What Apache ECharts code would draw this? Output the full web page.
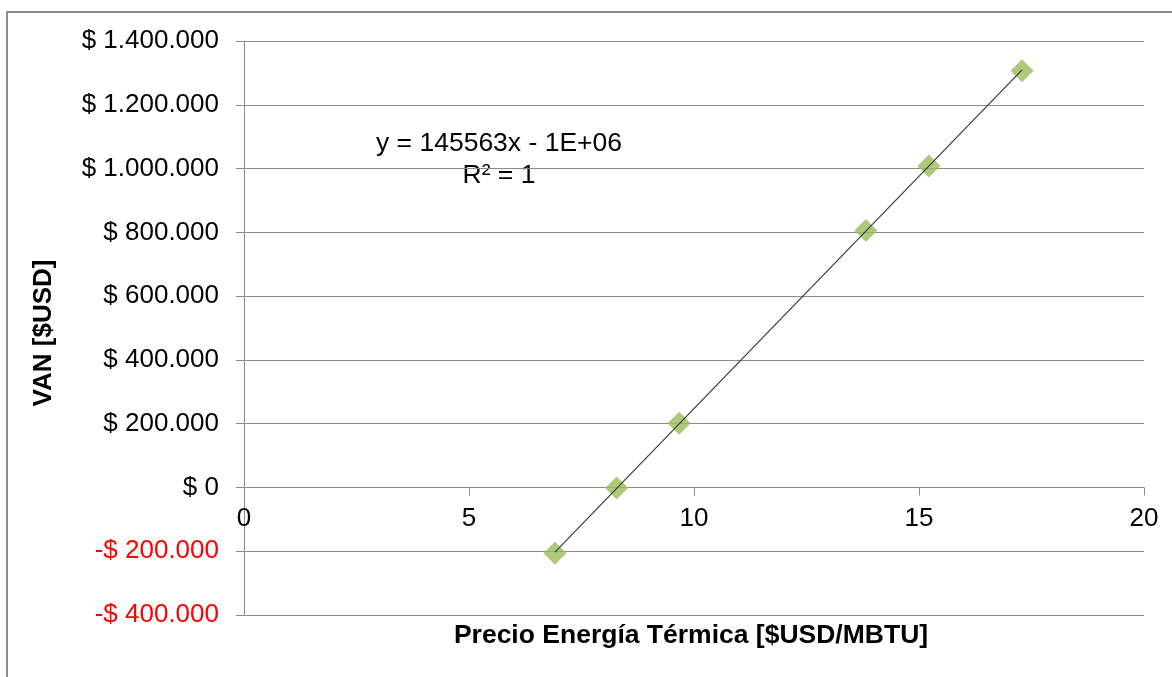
<!DOCTYPE html>
<html>
<head>
<meta charset="utf-8">
<script src="https://cdn.jsdelivr.net/npm/echarts@6/dist/echarts.min.js"></script>
<style>
html,body{margin:0;padding:0;background:#fff;}
#chart{width:1172px;height:677px;}
</style>
</head>
<body>
<div id="chart"></div>
<script>
// Data
var precio = [6.91, 8.28, 9.67, 13.82, 15.22, 17.29];
var van = [-206000, -2000, 201000, 806000, 1008000, 1307000];
var xTicks = [0, 5, 10, 15, 20];
var yTicks = [-400000, -200000, 0, 200000, 400000, 600000, 800000, 1000000, 1200000, 1400000];
var xTitle = 'Precio Energía Térmica [$USD/MBTU]';
var yTitle = 'VAN [$USD]';
var eqText = 'y = 145563x - 1E+06';
var r2Text = 'R² = 1';

// least squares trendline from data
var n = precio.length, sx = 0, sy = 0, sxx = 0, sxy = 0;
for (var i = 0; i < n; i++) { sx += precio[i]; sy += van[i]; sxx += precio[i]*precio[i]; sxy += precio[i]*van[i]; }
var slope = (n*sxy - sx*sy) / (n*sxx - sx*sx);
var icpt = (sy - slope*sx) / n;
var xmin = Math.min.apply(null, precio), xmax = Math.max.apply(null, precio);
var trend = [[xmin, slope*xmin + icpt], [xmax, slope*xmax + icpt]];

function fmtMoney(v) {
  var a = Math.abs(v);
  var s = String(Math.round(a)).replace(/\B(?=(\d{3})+(?!\d))/g, '.');
  return v < 0 ? '{neg|-$ ' + s + '}' : '{pos|$ ' + s + '}';
}

var FONT = '"Liberation Sans", Arial, sans-serif';
var GRID_TOP = 41, GRID_BOTTOM = 62, H = 677;
var plotH = H - GRID_TOP - GRID_BOTTOM;
var yMin = yTicks[0], yMax = yTicks[yTicks.length-1];
// move x axis up to the zero line (axis crosses at value 0)
var zeroOffset = -plotH * (0 - yMin) / (yMax - yMin);

var chart = echarts.init(document.getElementById('chart'), null, {renderer: 'canvas'});
chart.setOption({
  animation: false,
  backgroundColor: '#ffffff',
  grid: {left: 244, right: 28, top: GRID_TOP, bottom: GRID_BOTTOM, containLabel: false},
  xAxis: {
    type: 'value', min: xTicks[0], max: xTicks[xTicks.length-1], interval: 5,
    offset: zeroOffset,
    axisLine: {show: true, onZero: false, lineStyle: {color: '#8c8c8c', width: 1}},
    axisTick: {show: true, inside: false, length: 8, lineStyle: {color: '#8c8c8c'}},
    splitLine: {show: false},
    axisLabel: {fontFamily: FONT, fontSize: 26, color: '#000', margin: 18}
  },
  yAxis: {
    type: 'value', min: yMin, max: yMax, interval: 200000,
    axisLine: {show: true, onZero: false, lineStyle: {color: '#8c8c8c', width: 1}},
    axisTick: {show: true, inside: false, length: 8, lineStyle: {color: '#8c8c8c'}},
    splitLine: {show: true, lineStyle: {color: '#8c8c8c', width: 1}},
    axisLabel: {
      fontFamily: FONT, fontSize: 26, margin: 25,
      formatter: fmtMoney,
      rich: {
        neg: {color: '#ff0000', fontFamily: FONT, fontSize: 26},
        pos: {color: '#000000', fontFamily: FONT, fontSize: 26}
      }
    }
  },
  series: [
    {
      type: 'line', data: trend, symbol: 'none', silent: true,
      lineStyle: {color: '#3a3a3a', width: 1.2}, z: 3
    },
    {
      type: 'scatter', data: precio.map(function(x, i){ return [x, van[i]]; }),
      symbol: 'diamond', symbolSize: 23,
      itemStyle: {color: '#9bbb59'}, z: 2
    }
  ],
  graphic: [
    {type: 'rect', shape: {x: 7, y: 12, width: 1200, height: 700}, style: {fill: 'none', stroke: '#8c8c8c', lineWidth: 2}, silent: true},
    {type: 'text', x: 499, y: 144, style: {text: eqText, font: '26.5px ' + FONT, fill: '#000', align: 'center', verticalAlign: 'middle'}},
    {type: 'text', x: 499, y: 176, style: {text: r2Text, font: '26.5px ' + FONT, fill: '#000', align: 'center', verticalAlign: 'middle'}},
    {type: 'text', x: 691, y: 636, style: {text: xTitle, font: 'bold 26.5px ' + FONT, fill: '#000', align: 'center', verticalAlign: 'middle'}},
    {type: 'text', x: 44, y: 333, rotation: Math.PI/2, style: {text: yTitle, font: 'bold 26px ' + FONT, fill: '#000', align: 'center', verticalAlign: 'middle'}}
  ]
});
</script>
</body>
</html>
